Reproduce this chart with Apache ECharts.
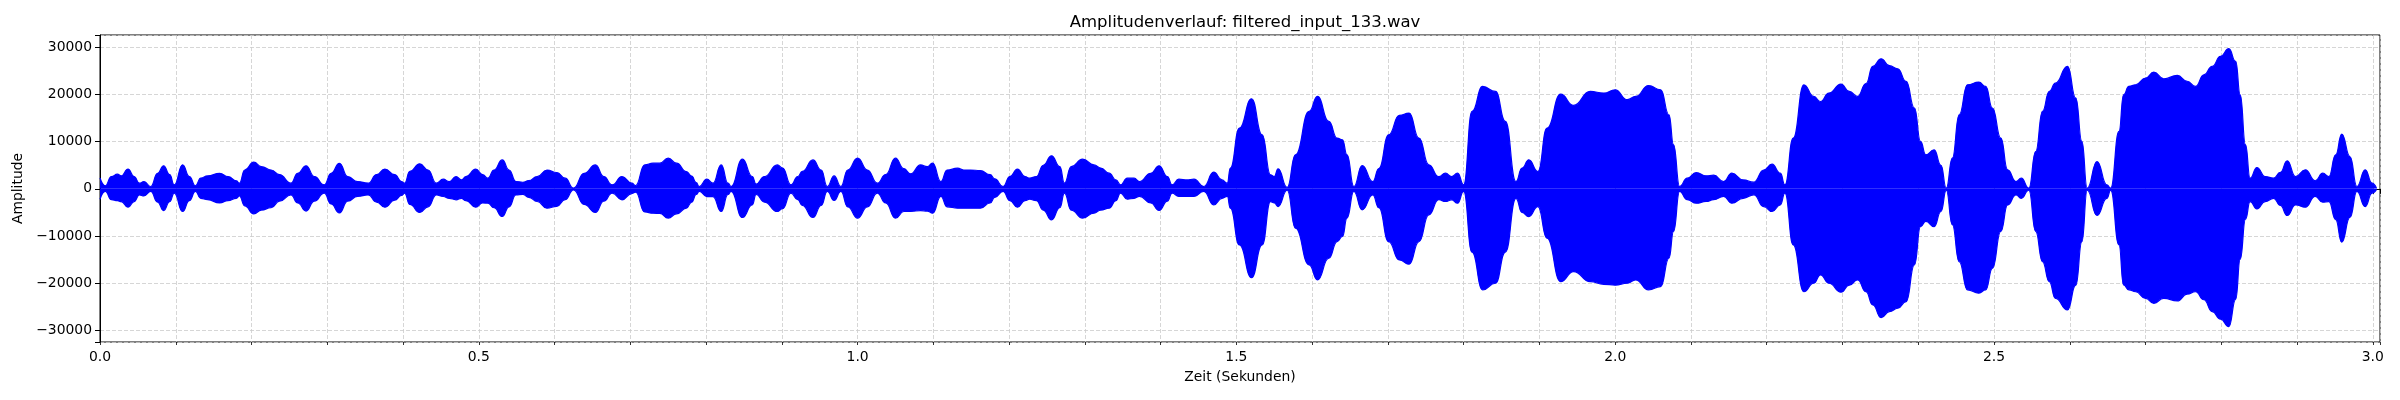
<!DOCTYPE html>
<html>
<head>
<meta charset="utf-8">
<script src="https://cdn.jsdelivr.net/npm/echarts@6/dist/echarts.min.js"></script>
<style>
  html, body { margin: 0; padding: 0; background: #fff; }
  #chart { width: 2400px; height: 400px; }
</style>
</head>
<body>
<div id="chart"></div>
<script>
// --- Envelope of the waveform (seconds / amplitude) ---
const TIMES = [
  0.000, 0.007, 0.015, 0.023, 0.028, 0.037, 0.045, 0.052, 0.058, 0.067,
  0.076, 0.084, 0.092, 0.098, 0.109, 0.118, 0.126, 0.133, 0.142, 0.158,
  0.169, 0.180, 0.184, 0.191, 0.203, 0.213, 0.226, 0.237, 0.252, 0.261,
  0.272, 0.283, 0.296, 0.305, 0.316, 0.327, 0.340, 0.354, 0.365, 0.376,
  0.389, 0.398, 0.402, 0.409, 0.422, 0.433, 0.444, 0.453, 0.461, 0.470,
  0.477, 0.483, 0.496, 0.505, 0.512, 0.520, 0.531, 0.540, 0.549, 0.558,
  0.566, 0.577, 0.590, 0.603, 0.614, 0.625, 0.639, 0.654, 0.665, 0.676,
  0.689, 0.702, 0.707, 0.719, 0.730, 0.739, 0.750, 0.761, 0.774, 0.781,
  0.787, 0.791, 0.801, 0.809, 0.820, 0.829, 0.833, 0.848, 0.861, 0.866,
  0.877, 0.894, 0.901, 0.912, 0.921, 0.927, 0.941, 0.952, 0.960, 0.969,
  0.978, 0.987, 1.000, 1.013, 1.026, 1.037, 1.050, 1.061, 1.070, 1.083,
  1.092, 1.099, 1.110, 1.118, 1.132, 1.140, 1.149, 1.162, 1.175, 1.181,
  1.192, 1.201, 1.211, 1.221, 1.227, 1.236, 1.245, 1.256, 1.267, 1.273,
  1.282, 1.297, 1.312, 1.321, 1.332, 1.341, 1.347, 1.356, 1.365, 1.372,
  1.387, 1.398, 1.409, 1.415, 1.424, 1.435, 1.444, 1.457, 1.470, 1.481,
  1.488, 1.492, 1.504, 1.520, 1.534, 1.545, 1.550, 1.555, 1.567, 1.578,
  1.596, 1.607, 1.622, 1.633, 1.640, 1.646, 1.655, 1.666, 1.680, 1.688,
  1.701, 1.715, 1.728, 1.741, 1.754, 1.767, 1.776, 1.784, 1.792, 1.800,
  1.811, 1.825, 1.842, 1.855, 1.869, 1.877, 1.886, 1.898, 1.910, 1.928,
  1.945, 1.967, 1.985, 2.000, 2.016, 2.027, 2.044, 2.060, 2.071, 2.077,
  2.085, 2.095, 2.107, 2.120, 2.130, 2.143, 2.154, 2.169, 2.183, 2.196,
  2.207, 2.218, 2.224, 2.235, 2.249, 2.262, 2.271, 2.282, 2.298, 2.309,
  2.320, 2.331, 2.340, 2.351, 2.362, 2.373, 2.384, 2.395, 2.403, 2.410,
  2.421, 2.430, 2.437, 2.445, 2.454, 2.465, 2.480, 2.489, 2.498, 2.509,
  2.518, 2.529, 2.536, 2.546, 2.555, 2.564, 2.573, 2.581, 2.597, 2.608,
  2.616, 2.623, 2.636, 2.649, 2.654, 2.665, 2.671, 2.678, 2.687, 2.700,
  2.711, 2.724, 2.742, 2.755, 2.766, 2.777, 2.788, 2.799, 2.810, 2.819,
  2.825, 2.832, 2.838, 2.847, 2.858, 2.869, 2.878, 2.887, 2.898, 2.911,
  2.924, 2.934, 2.942, 2.951, 2.959, 2.970, 2.979, 2.990, 2.999, 3.005
];

const UPPER = [
  2300, 650, 2600, 3100, 2750, 4200, 2600, 1200, 1550, 500,
  3300, 4900, 3000, 850, 5100, 2600, 650, 2300, 2750, 3300,
  2600, 1700, 1200, 4000, 5650, 4700, 4000, 3000, 1200, 3300,
  4900, 2600, 850, 3300, 5400, 2600, 1550, 1200, 3000, 4200,
  3000, 1550, 1200, 3700, 5300, 4000, 1200, 2050, 1550, 2600,
  1900, 2600, 4170, 3000, 2260, 4000, 6140, 4000, 1550, 1400,
  1750, 2600, 4000, 3460, 2260, 150, 3300, 5080, 2600, 850,
  2600, 1200, 700, 5080, 5440, 5440, 6500, 5440, 3670, 2700,
  1300, 500, 2050, 1200, 5080, 1200, 500, 6280, 2600, 1000,
  2600, 5080, 4400, 850, 2600, 3700, 6140, 4000, 500, 2750,
  500, 4000, 6500, 4000, 1200, 3000, 6500, 4300, 3180, 5080,
  4700, 5440, 1550, 4000, 4380, 4000, 4000, 3880, 3000, 2100,
  500, 2600, 4170, 2600, 2260, 2600, 5000, 7000, 4700, 1200,
  4700, 6280, 5080, 4400, 3320, 1900, 850, 2260, 2260, 1550,
  3300, 4870, 2600, 850, 2050, 1900, 2050, 500, 3530, 1900,
  1200, 4400, 12870, 19090, 11450, 2970, 2600, 4240, 300, 7200,
  16400, 19580, 14280, 10750, 10400, 7200, 500, 4950, 1550, 4300,
  11450, 15550, 16050, 10750, 5090, 2600, 3320, 2600, 3320, 850,
  16400, 21700, 20640, 14280, 1550, 4400, 6150, 3680, 12870, 20080,
  17680, 20640, 20300, 21000, 18900, 19580, 21900, 21000, 15700, 9330,
  500, 2260, 3460, 2760, 2900, 1550, 3320, 1900, 1410, 4000,
  5230, 3320, 850, 10750, 22060, 19580, 18500, 20300, 22200, 20640,
  19580, 22300, 25950, 27570, 26100, 25450, 22770, 17100, 10040, 7210,
  8270, 5000, 150, 6500, 15700, 22060, 22620, 21700, 17100, 10750,
  4030, 1550, 2260, 150, 7900, 16400, 20640, 22400, 25950, 19230,
  10040, 150, 5800, 850, 150, 12160, 19940, 21700, 22060, 23470,
  24750, 23300, 24040, 22800, 21700, 24180, 25950, 28070, 29700, 27000,
  19940, 9330, 2260, 4520, 2600, 2260, 3500, 5940, 2600, 4030,
  1700, 3320, 2600, 7200, 11600, 6800, 500, 4030, 1200, 100
];

const LOWER = [
  -2200, -550, -2300, -2500, -2700, -3900, -2700, -1300, -1500, -550,
  -2800, -4600, -2700, -900, -4800, -2500, -550, -2000, -2300, -3000,
  -2500, -2000, -1500, -3600, -5300, -4500, -4000, -2600, -1300, -3000,
  -4700, -2600, -900, -3200, -5100, -2600, -1600, -1300, -2800, -3900,
  -2400, -1400, -920, -3300, -5000, -3800, -1300, -1620, -2000, -2330,
  -2000, -2500, -3880, -3000, -3030, -4000, -5860, -3800, -1300, -1150,
  -1800, -2680, -4100, -3700, -2300, -200, -3300, -5000, -2600, -900,
  -2330, -1000, -700, -4900, -5150, -5200, -6200, -5300, -4100, -2800,
  -1200, -550, -1630, -1630, -4800, -1200, -550, -6070, -3400, -1200,
  -2800, -4800, -4200, -900, -2300, -3500, -6070, -3500, -550, -2470,
  -550, -3800, -6200, -3800, -900, -3000, -6200, -4800, -4800, -4600,
  -4700, -5150, -1600, -3800, -4100, -4100, -4100, -4100, -3000, -1800,
  -550, -2500, -3880, -2500, -2200, -2500, -4500, -6570, -4000, -900,
  -4500, -6200, -5150, -4500, -4100, -2500, -900, -2200, -2000, -1600,
  -3000, -4590, -2600, -900, -1600, -1600, -1600, -550, -3390, -2000,
  -1600, -4100, -11900, -18800, -11900, -2700, -3000, -3750, -300, -8340,
  -16100, -19300, -14700, -11170, -10100, -6200, -550, -4450, -1300, -4000,
  -11170, -15060, -15980, -11170, -5500, -2300, -2680, -2330, -3040, -550,
  -13400, -21400, -20000, -13400, -2000, -5000, -5870, -3750, -10460, -19650,
  -17530, -19650, -20220, -20400, -20000, -19300, -21400, -20700, -14700, -9000,
  -550, -2300, -3040, -2670, -2300, -1600, -3040, -2000, -1270, -3750,
  -4800, -3400, -900, -11900, -21800, -20000, -18240, -20000, -21900, -20400,
  -19300, -21800, -24600, -27300, -26000, -25300, -23900, -16100, -8000, -6900,
  -8000, -4800, -300, -7600, -15400, -21400, -22100, -21400, -16800, -9000,
  -3400, -1300, -2000, -300, -9000, -15400, -19650, -23200, -25660, -20400,
  -11200, -300, -5650, -2000, -300, -11900, -20360, -21400, -21800, -23190,
  -24250, -23200, -23760, -22300, -21800, -23500, -26000, -27600, -29200, -23400,
  -14900, -6400, -2700, -4240, -2700, -2000, -3500, -5650, -3400, -3890,
  -1600, -2830, -2700, -6500, -11300, -6000, -550, -3750, -900, -100
];

// axis limits / tick steps
const X_MIN = 0;
const X_MAX = 3.0095;
const X_MAJOR = 0.5;
const X_MINOR = 0.1;
const Y_MIN = -32450;
const Y_MAX = 32600;
const Y_STEP = 10000;

const FONT = 'DejaVu Sans';
const BLUE = '#0000ff';

function isMultiple(v, step) {
  const q = v / step;
  return Math.abs(q - Math.round(q)) < 1e-6;
}

function fmtNum(v) {
  return v < 0 ? '\u2212' + Math.abs(v) : String(v);
}

const upperData = TIMES.map((t, i) => [t, UPPER[i]]);
const lowerData = TIMES.map((t, i) => [t, LOWER[i]]);

const chart = echarts.init(document.getElementById('chart'), null, { renderer: 'canvas' });

const gridLine = { color: '#cccccc', width: 0.8, type: [4, 2] };

function envelopeSeries(name, data) {
  return {
    name,
    type: 'line',
    xAxisIndex: 0,
    data,
    symbol: 'none',
    smooth: 0.5,
    smoothMonotone: 'x',
    lineStyle: { color: BLUE, width: 1.2 },
    areaStyle: { color: BLUE, opacity: 1 },
    silent: true,
  };
}

chart.setOption({
  animation: false,
  backgroundColor: '#ffffff',
  title: {
    text: 'Amplitudenverlauf: filtered_input_133.wav',
    left: 1240,
    top: 9,
    textAlign: 'center',
    textStyle: { fontFamily: FONT, fontSize: 16.5, fontWeight: 'normal', color: '#000' },
  },
  grid: {
    left: 100, right: 20, top: 35, bottom: 58,
    show: true, borderColor: '#000', borderWidth: 1, backgroundColor: 'transparent',
  },
  xAxis: [
    {
      type: 'value',
      min: X_MIN,
      max: X_MAX,
      interval: X_MAJOR,
      name: 'Zeit (Sekunden)',
      nameLocation: 'middle',
      nameGap: 28,
      nameTextStyle: { fontFamily: FONT, fontSize: 13.9, color: '#000' },
      axisLine: { show: true, lineStyle: { color: '#000', width: 1 } },
      axisTick: { show: true, length: 5, lineStyle: { color: '#000', width: 1 } },
      axisLabel: {
        margin: 8,
        fontFamily: FONT, fontSize: 13.9, color: '#000',
        formatter: v => (isMultiple(v, X_MAJOR) && v <= 3.0 + 1e-9 ? v.toFixed(1) : ''),
      },
      splitLine: { show: false },
    },
    {
      type: 'value',
      min: X_MIN,
      max: X_MAX,
      interval: X_MINOR,
      position: 'bottom',
      axisLine: { show: false },
      axisTick: { show: true, length: 3, lineStyle: { color: '#000', width: 0.8 } },
      axisLabel: { show: false },
      splitLine: { show: true, lineStyle: gridLine },
    },
  ],
  yAxis: {
    type: 'value',
    min: Y_MIN,
    max: Y_MAX,
    minInterval: Y_STEP,
    maxInterval: Y_STEP,
    name: 'Amplitude',
    nameLocation: 'middle',
    nameGap: 69,
    nameTextStyle: { fontFamily: FONT, fontSize: 13.9, color: '#000' },
    axisLine: { show: true, lineStyle: { color: '#000', width: 1 } },
    axisTick: { show: true, length: 5, lineStyle: { color: '#000', width: 1 } },
    axisLabel: {
      margin: 8,
      fontFamily: FONT, fontSize: 13.9, color: '#000',
      formatter: v => (isMultiple(v, Y_STEP) ? fmtNum(v) : ''),
    },
    splitLine: { show: true, lineStyle: gridLine },
  },
  series: [
    envelopeSeries('upper', upperData),
    envelopeSeries('lower', lowerData),
  ],
});
</script>
</body>
</html>
